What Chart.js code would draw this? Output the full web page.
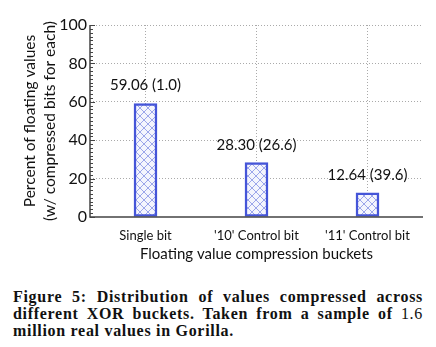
<!DOCTYPE html>
<html>
<head>
<meta charset="utf-8">
<script src="https://cdn.jsdelivr.net/npm/chart.js@4.4.1/dist/chart.umd.min.js"></script>
<style>
  html, body { margin: 0; padding: 0; background: #fff; }
  #wrap { width: 436px; height: 270px; }
  .caption {
    width: 410px;
    margin: 18px 0 0 13px;
    font-family: "Liberation Serif", "DejaVu Serif", serif;
    font-weight: bold;
    font-size: 16px;
    letter-spacing: 0.7px;
    line-height: 17px;
    color: #111;
    text-align: justify;
  }
  .caption .num { font-weight: normal; }
</style>
</head>
<body>
<div id="wrap"><canvas id="bucketChart" width="436" height="270"></canvas></div>
<div class="caption">Figure 5: Distribution of values compressed across different XOR buckets. Taken from a sample of <span class="num">1.6</span> million real values in Gorilla.</div>
<script>
// XOR bucket breakdown: share of values and the average compressed bits in each
const buckets = ['Single bit', "'10' Control bit", "'11' Control bit"];
const percentValues = [59.06, 28.30, 12.64];
const avgBits = [1.0, 26.6, 39.6];
const yTicks = [0, 20, 40, 60, 80, 100];

const FONT = 'Lato, "Open Sans", sans-serif';
const BAR_BORDER = '#4555d8';
const HATCH = '#9ca6ea';
const AXIS = '#444';

// light blue cross-hatch fill
function makeHatch() {
    const c = document.createElement('canvas');
    c.width = 8;
    c.height = 8;
    const g = c.getContext('2d');
    g.fillStyle = '#f4f5fd';
    g.fillRect(0, 0, 8, 8);
    g.strokeStyle = HATCH;
    g.lineWidth = 1;
    g.beginPath();
    g.moveTo(0, 0); g.lineTo(8, 8);
    g.moveTo(8, 0); g.lineTo(0, 8);
    g.stroke();
    return g.createPattern(c, 'repeat');
}

// solid left/bottom axis lines plus small inward ticks on y
const axisLines = {
    id: 'axisLines',
    afterDatasetsDraw(chart) {
        const y = chart.scales.y;
        const ctx = chart.ctx;
        const { left, right, top, bottom } = chart.chartArea;
        ctx.save();
        ctx.strokeStyle = AXIS;
        ctx.lineWidth = 1.5;
        ctx.beginPath();
        ctx.moveTo(left, top);
        ctx.lineTo(left, bottom);
        ctx.lineTo(right, bottom);
        ctx.stroke();
        ctx.lineWidth = 1;
        for (let v = 0; v <= 100; v += 2) {
            const py = Math.round(y.getPixelForValue(v)) + 0.5;
            const len = v % 20 === 0 ? 5 : 3;
            ctx.beginPath();
            ctx.moveTo(left, py);
            ctx.lineTo(left + len, py);
            ctx.stroke();
        }
        ctx.restore();
    }
};

// "value (bits)" above each bar
const barLabels = {
    id: 'barLabels',
    afterDatasetsDraw(chart) {
        const ctx = chart.ctx;
        const meta = chart.getDatasetMeta(0);
        ctx.save();
        ctx.font = '15px ' + FONT;
        ctx.fillStyle = '#111';
        ctx.textAlign = 'center';
        ctx.textBaseline = 'middle';
        meta.data.forEach((bar, i) => {
            const txt = percentValues[i].toFixed(2) + ' (' + avgBits[i].toFixed(1) + ')';
            ctx.fillText(txt, bar.x, bar.y - 18);
        });
        ctx.restore();
    }
};

new Chart(document.getElementById('bucketChart'), {
    type: 'bar',
    data: {
        labels: buckets,
        datasets: [{
            data: percentValues,
            backgroundColor: makeHatch(),
            borderColor: BAR_BORDER,
            borderWidth: 2.5,
            borderSkipped: false,
            barThickness: 23
        }]
    },
    options: {
        responsive: false,
        animation: false,
        layout: { padding: { top: 25, right: 13, left: 20, bottom: 7 } },
        plugins: {
            legend: { display: false },
            tooltip: { enabled: false }
        },
        scales: {
            x: {
                grid: {
                    offset: false,
                    color: '#aaa',
                    drawTicks: false
                },
                border: { display: false, dash: [1, 2] },
                ticks: {
                    color: '#111',
                    font: { family: FONT, size: 13 },
                    padding: 11
                },
                title: {
                    display: true,
                    text: 'Floating value compression buckets',
                    color: '#111',
                    font: { family: FONT, size: 15 },
                    padding: { top: 0, bottom: 0 }
                },
                afterFit(scale) { scale.height = 46; }
            },
            y: {
                min: 0,
                max: 100,
                afterBuildTicks(scale) {
                    scale.ticks = yTicks.map(v => ({ value: v }));
                },
                grid: {
                    color: ctx => ctx.tick && ctx.tick.value === 0 ? 'transparent' : '#aaa',
                    drawTicks: false
                },
                border: { display: false, dash: [1, 2] },
                ticks: {
                    color: '#111',
                    font: { family: FONT, size: 16 },
                    padding: 3
                },
                title: {
                    display: true,
                    text: ['Percent of floating values', '(w/ compressed bits for each)'],
                    color: '#111',
                    font: { family: FONT, size: 15.5, lineHeight: 1.3 },
                    padding: { top: 0, bottom: 0 }
                },
                afterFit(scale) { scale.width = 70; }
            }
        }
    },
    plugins: [axisLines, barLabels]
});
</script>
</body>
</html>
